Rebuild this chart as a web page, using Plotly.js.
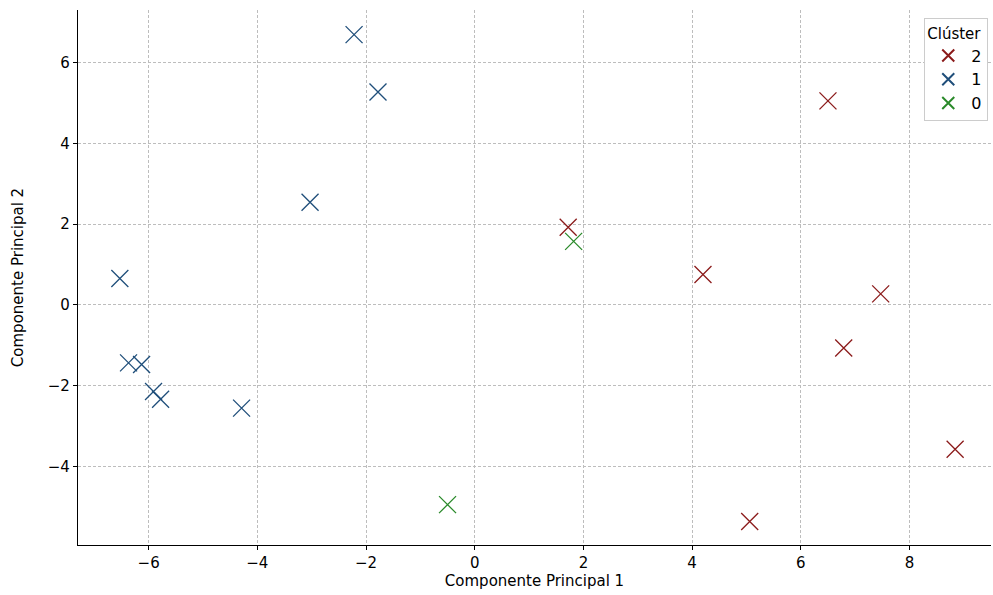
<!DOCTYPE html>
<html><head><meta charset="utf-8">
<script src="https://cdn.plot.ly/plotly-3.0.1.min.js"></script>
<style>html,body{margin:0;padding:0;background:#fff}</style>
</head><body><div id="chart" style="width:993px;height:595px"></div>
<script>
const cluster2X = [6.50, 1.72, 4.20, 7.47, 6.79, 8.84, 5.06];
const cluster2Y = [5.05, 1.92, 0.75, 0.27, -1.07, -3.58, -5.37];
const cluster1X = [-2.22, -1.78, -3.03, -6.53, -6.37, -6.13, -5.91, -5.78, -4.29];
const cluster1Y = [6.69, 5.27, 2.54, 0.65, -1.44, -1.48, -2.15, -2.34, -2.56];
const cluster0X = [1.82, -0.50];
const cluster0Y = [1.57, -4.95];
const clusterNames = ["2", "1", "0"];
const clusterColors = ["#8b1a1a", "#1f4e7a", "#2a8a2a"];

const xs = [cluster2X, cluster1X, cluster0X];
const ys = [cluster2Y, cluster1Y, cluster0Y];
const traces = clusterNames.map((n, i) => ({
  type: "scatter", mode: "markers", name: n, x: xs[i], y: ys[i],
  marker: {symbol: "x-thin-open", size: 17, color: clusterColors[i], line: {width: 1.3, color: clusterColors[i]}}
}));

const axisCommon = {
  showgrid: true, gridcolor: "#bdbdbd", griddash: "3px,2px", gridwidth: 1,
  zeroline: false, showline: true, linecolor: "#000", linewidth: 1.2,
  ticks: "outside", ticklen: 4, tickcolor: "#000",
  tickfont: {family: "DejaVu Sans", size: 15, color: "#000"}
};
const layout = {
  width: 993, height: 595,
  margin: {l: 78, r: 2, t: 10, b: 50},
  paper_bgcolor: "#fff", plot_bgcolor: "#fff",
  font: {family: "DejaVu Sans", color: "#000"},
  showlegend: true,
  xaxis: Object.assign({}, axisCommon, {range: [-7.3, 9.5], dtick: 2, tick0: 0,
    title: {text: "Componente Principal 1", font: {family: "DejaVu Sans", size: 15}, standoff: 4}}),
  yaxis: Object.assign({}, axisCommon, {range: [-5.95, 7.3], dtick: 2, tick0: 0,
    title: {text: "Componente Principal 2", font: {family: "DejaVu Sans", size: 15}, standoff: 20}}),
  legend: {x: 0.997, xanchor: "right", y: 0.985, yanchor: "top",
    bgcolor: "#fff", bordercolor: "#cccccc", borderwidth: 1,
    itemsizing: "constant",
    title: {text: "Clúster", font: {family: "DejaVu Sans", size: 15}},
    font: {family: "DejaVu Sans", size: 16}, itemwidth: 36, tracegroupgap: 2}
};
Plotly.newPlot("chart", traces, layout, {displayModeBar: false});
</script></body></html>
